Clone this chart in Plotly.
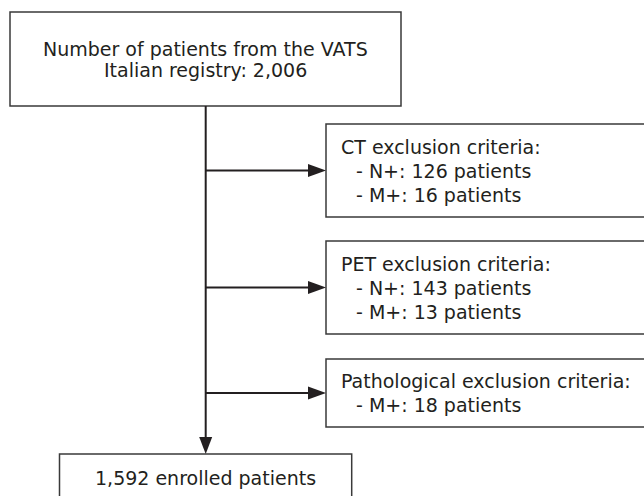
import plotly.graph_objects as go

# ---- data ----
registry_total = 2006
ct_exclusions = {"N+": 126, "M+": 16}
pet_exclusions = {"N+": 143, "M+": 13}
path_exclusions = {"M+": 18}
enrolled_total = 1592

top_lines = ["Number of patients from the VATS", f"Italian registry: {registry_total:,}"]
side_titles = ["CT exclusion criteria:", "PET exclusion criteria:", "Pathological exclusion criteria:"]
side_items = [ct_exclusions, pet_exclusions, path_exclusions]
bottom_line = f"{enrolled_total:,} enrolled patients"

# ---- layout geometry (pixels) ----
W, H = 644, 496
FONT = dict(family="DejaVu Sans", size=19, color="#231f20")
LINE_C = "#231f20"
BOX_C = "#3a3a3a"
spine_x = 205.7

fig = go.Figure()
shapes = []
annotations = []

def box(x0, y0, x1, y1):
    shapes.append(dict(type="rect", x0=x0, y0=y0, x1=x1, y1=y1, xref="x", yref="y",
                       line=dict(color=BOX_C, width=1.5), fillcolor="rgba(0,0,0,0)"))

def text(x, y, s, anchor="center"):
    annotations.append(dict(x=x, y=y, xref="x", yref="y", text=s, showarrow=False,
                            xanchor=anchor, yanchor="middle", font=FONT))

# top box
box(10, 12, 401, 106)
for i, s in enumerate(top_lines):
    text(spine_x, 49 + 21 * i, s)

# spine
shapes.append(dict(type="line", x0=spine_x, y0=106, x1=spine_x, y1=438, line=dict(color=LINE_C, width=2)))
shapes.append(dict(type="path", path=f"M {spine_x-6.5},437 L {spine_x+6.5},437 L {spine_x},454 Z",
                   fillcolor=LINE_C, line=dict(color=LINE_C, width=0)))

# side boxes
side_boxes = [(124, 217), (241, 334), (359, 427)]
for (y0, y1), title, items in zip(side_boxes, side_titles, side_items):
    box(326, y0, 660, y1)
    n = 1 + len(items)
    cy = (y0 + y1) / 2
    start = cy - (n - 1) * 24 / 2
    text(338.5, start, title, anchor="left")
    for j, (k, v) in enumerate(items.items()):
        text(354, start + 24 * (j + 1), f"- {k}: {v} patients", anchor="left")
    ay = cy
    shapes.append(dict(type="line", x0=spine_x, y0=ay, x1=310, y1=ay, line=dict(color=LINE_C, width=2)))
    shapes.append(dict(type="path", path=f"M 308,{ay-6.5} L 308,{ay+6.5} L 326,{ay} Z",
                       fillcolor=LINE_C, line=dict(color=LINE_C, width=0)))

# bottom box
box(59.5, 454, 351.7, 520)
text(spine_x, 478, bottom_line)

fig.update_layout(
    width=W, height=H, margin=dict(l=0, r=0, t=0, b=0),
    paper_bgcolor="white", plot_bgcolor="white",
    xaxis=dict(range=[0, W], visible=False, fixedrange=True),
    yaxis=dict(range=[H, 0], visible=False, fixedrange=True),
    shapes=shapes, annotations=annotations, showlegend=False,
)
fig.write_html("out.html", config={"displayModeBar": False},
               post_script="document.body.style.margin='0';document.body.style.overflow='hidden';")
